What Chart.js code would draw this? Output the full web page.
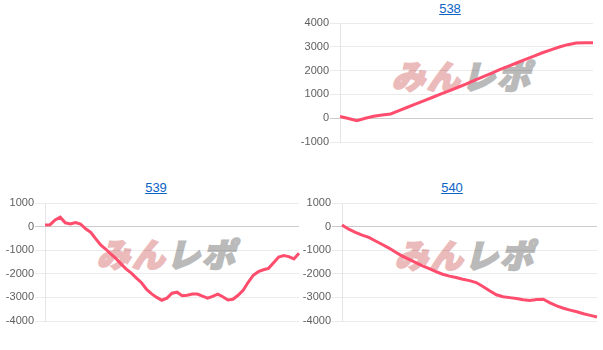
<!DOCTYPE html>
<html>
<head>
<meta charset="utf-8">
<script src="https://cdn.jsdelivr.net/npm/chart.js@4.4.1/dist/chart.umd.min.js"></script>
<style>
  html, body { margin:0; padding:0; background:#fff; width:603px; height:350px; overflow:hidden; }
  .title { position:absolute; font:13px "Liberation Sans", Arial, sans-serif; color:#0b63c5; text-decoration:underline; transform:translateX(-50%); white-space:nowrap; }
  .wm { position:absolute; transform:translate(-50%,-50%) skewX(-14deg); font-family:"Noto Sans CJK JP", sans-serif; font-weight:900; font-size:33px; line-height:1; white-space:nowrap; letter-spacing:2px; }
  .wm .a { color:#ebbaba; -webkit-text-stroke:2px #ebbaba; }
  .wm .b { color:#bababa; -webkit-text-stroke:2px #bababa; }
  canvas { position:absolute; }
</style>
</head>
<body>
<script>
// ---- data ----
const titles = ["538", "539", "540"];
const values538 = [70, -10, -100, 0, 80, 130, 180, 320, 460, 600, 740, 880, 1020, 1160, 1300, 1440, 1600, 1750, 1890, 2050, 2190, 2330, 2470, 2610, 2750, 2870, 2990, 3090, 3160, 3170, 3170];
const values539 = [70, 80, 280, 400, 160, 110, 170, 110, -90, -240, -520, -790, -960, -1170, -1360, -1590, -1800, -1970, -2180, -2380, -2660, -2850, -3000, -3120, -3030, -2820, -2780, -2930, -2910, -2860, -2860, -2950, -3030, -2960, -2860, -2970, -3110, -3080, -2910, -2700, -2360, -2060, -1910, -1830, -1770, -1530, -1290, -1230, -1270, -1370, -1130];
const values540 = [70, -110, -240, -360, -460, -610, -760, -910, -1090, -1250, -1390, -1530, -1660, -1780, -1910, -2020, -2100, -2160, -2230, -2290, -2370, -2540, -2720, -2890, -2970, -3010, -3050, -3100, -3130, -3090, -3080, -3230, -3360, -3460, -3540, -3610, -3690, -3760, -3830];
const yRange538 = [-1000, 4000];
const yRange539 = [-4000, 1000];
const yRange540 = [-4000, 1000];
const watermarkText = ["みん", "レポ"];

// ---- layout ----
const panels = [
  { title: titles[0], data: values538, range: yRange538, left: 300, top: 14, w: 303, h: 140, axisW: 40, pad: {top: 9, bottom: 12, right: 10, left: 0}, tx: 450, ty: 1, wx: 465, wy: 75 },
  { title: titles[1], data: values539, range: yRange539, left: 0, top: 194, w: 301, h: 140, axisW: 45, pad: {top: 9, bottom: 13, right: 2, left: 0}, tx: 156, ty: 180, wx: 170, wy: 253 },
  { title: titles[2], data: values540, range: yRange540, left: 300, top: 194, w: 303, h: 140, axisW: 42, pad: {top: 9, bottom: 13, right: 6, left: 0}, tx: 452, ty: 180, wx: 468, wy: 254 }
];

panels.forEach(p => {
  const t = document.createElement('a');
  t.className = 'title'; t.textContent = p.title; t.href = '#';
  t.style.left = p.tx + 'px'; t.style.top = p.ty + 'px';
  document.body.appendChild(t);

  const wm = document.createElement('div');
  wm.className = 'wm';
  wm.innerHTML = '<span class="a">' + watermarkText[0] + '</span><span class="b">' + watermarkText[1] + '</span>';
  wm.style.left = p.wx + 'px'; wm.style.top = p.wy + 'px';
  document.body.appendChild(wm);

  const c = document.createElement('canvas');
  c.width = p.w; c.height = p.h;
  c.style.left = p.left + 'px'; c.style.top = p.top + 'px';
  c.style.width = p.w + 'px'; c.style.height = p.h + 'px';
  document.body.appendChild(c);

  new Chart(c, {
    type: 'line',
    data: {
      labels: p.data.map((_, i) => String(i + 1)),
      datasets: [{
        data: p.data,
        borderColor: '#ff4d6d',
        borderWidth: 3,
        pointRadius: 0,
        tension: 0,
        fill: false
      }]
    },
    options: {
      responsive: false,
      animation: false,
      devicePixelRatio: 1,
      layout: { padding: p.pad },
      plugins: { legend: { display: false }, tooltip: { enabled: false }, title: { display: false } },
      scales: {
        x: { display: false },
        y: {
          min: p.range[0], max: p.range[1],
          afterFit: s => { s.width = p.axisW; },
          ticks: { stepSize: 1000, color: '#5f5f5f', padding: 1, callback: v => String(v), font: { family: '"Liberation Sans", Arial, sans-serif', size: 11 } },
          grid: {
            tickLength: 10,
            color: ctx => (ctx.tick && ctx.tick.value === 0) ? 'rgba(0,0,0,0.2)' : 'rgba(0,0,0,0.08)'
          },
          border: { color: 'rgba(0,0,0,0.1)' }
        }
      }
    }
  });
});
</script>
</body>
</html>
